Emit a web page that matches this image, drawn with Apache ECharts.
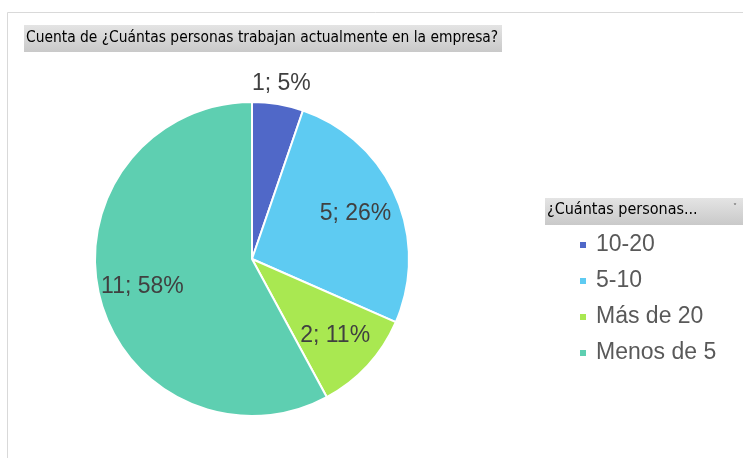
<!DOCTYPE html>
<html>
<head>
<meta charset="utf-8">
<script src="https://cdn.jsdelivr.net/npm/echarts@6/dist/echarts.min.js"></script>
<style>
  html, body { margin: 0; padding: 0; background: #fff; }
  #chart { width: 743px; height: 458px; }
</style>
</head>
<body>
<div id="chart"></div>
<script>
  // datos de la tabla dinámica
  var categories = ['10-20', '5-10', 'Más de 20', 'Menos de 5'];
  var counts = [1, 5, 2, 11];
  var colors = ['#5068c8', '#5ecbf2', '#a9e851', '#5ecfb1'];
  var titleText = 'Cuenta de ¿Cuántas personas trabajan actualmente en la empresa?';
  var legendTitle = '¿Cuántas personas...';

  var total = counts.reduce(function (a, b) { return a + b; }, 0);

  function labelText(p) {
    return p.value + '; ' + Math.round(p.value / total * 100) + '%';
  }

  var pieData = categories.map(function (c, i) {
    return { name: c, value: counts[i], itemStyle: { color: colors[i] } };
  });
  // etiquetas dentro (todas menos la primera)
  var innerLabelData = categories.map(function (c, i) {
    return { name: c, value: counts[i], label: { show: i !== 0 } };
  });
  // etiqueta fuera (solo la primera)
  var outerLabelData = categories.map(function (c, i) {
    return { name: c, value: counts[i], label: { show: i === 0 } };
  });

  var myChart = echarts.init(document.getElementById('chart'));
  var labelStyle = {
    position: 'inside',
    formatter: labelText,
    color: '#404040',
    fontSize: 23,
    fontFamily: 'Liberation Sans, Arial, sans-serif'
  };
  var overlayBase = {
    type: 'pie',
    center: [252, 259],
    startAngle: 90,
    clockwise: true,
    silent: true,
    animation: false,
    itemStyle: { color: 'transparent', borderWidth: 0 },
    emphasis: { disabled: true },
    labelLine: { show: false }
  };

  var option = {
    backgroundColor: '#ffffff',
    animation: false,
    graphic: [
      // marco del gráfico
      { type: 'polyline', shape: { points: [[7.5, 458], [7.5, 12.5], [743, 12.5]] },
        style: { stroke: '#d9d9d9', lineWidth: 1, fill: null } },
      // título con fondo gris
      { type: 'rect', shape: { x: 24, y: 25, width: 478, height: 27 },
        style: { fill: new echarts.graphic.LinearGradient(0, 0, 0, 1, [
          { offset: 0, color: '#e4e4e4' }, { offset: 1, color: '#c9c9c9' }]) } },
      { type: 'text', left: 26, top: 30,
        style: { text: titleText, fill: '#000', fontSize: 15.4,
          fontFamily: 'DejaVu Sans Condensed, DejaVu Sans, sans-serif' } },
      // encabezado de la leyenda
      { type: 'rect', shape: { x: 545, y: 198, width: 198, height: 27 },
        style: { fill: new echarts.graphic.LinearGradient(0, 0, 0, 1, [
          { offset: 0, color: '#e4e4e4' }, { offset: 1, color: '#c9c9c9' }]) } },
      { type: 'text', left: 547, top: 202,
        style: { text: legendTitle, fill: '#000', fontSize: 16,
          fontFamily: 'DejaVu Sans Condensed, DejaVu Sans, sans-serif' } },
      { type: 'text', left: 733, top: 204,
        style: { text: '˅', fill: '#555', fontSize: 8, fontFamily: 'DejaVu Sans' } }
    ],
    legend: {
      orient: 'vertical',
      left: 578,
      top: 233,
      padding: 0,
      icon: 'rect',
      itemWidth: 8,
      itemHeight: 8,
      itemGap: 12,
      selectedMode: false,
      data: categories.map(function (c, i) {
        return { name: c, itemStyle: { color: colors[i] } };
      }),
      textStyle: {
        color: '#595959',
        fontSize: 23,
        lineHeight: 24,
        padding: [0, 0, 0, 4],
        fontFamily: 'Liberation Sans, Arial, sans-serif'
      }
    },
    series: [
      {
        name: 'personas',
        type: 'pie',
        center: [252, 259],
        radius: 157,
        startAngle: 90,
        clockwise: true,
        itemStyle: { borderColor: '#ffffff', borderWidth: 2 },
        label: { show: false },
        labelLine: { show: false },
        emphasis: { disabled: true },
        data: pieData
      },
      Object.assign({}, overlayBase, {
        name: 'etiquetas',
        radius: [63, 157],
        label: labelStyle,
        data: innerLabelData
      }),
      Object.assign({}, overlayBase, {
        name: 'etiqueta fuera',
        radius: [163, 187],
        label: labelStyle,
        data: outerLabelData
      })
    ]
  };
  myChart.setOption(option);
</script>
</body>
</html>
